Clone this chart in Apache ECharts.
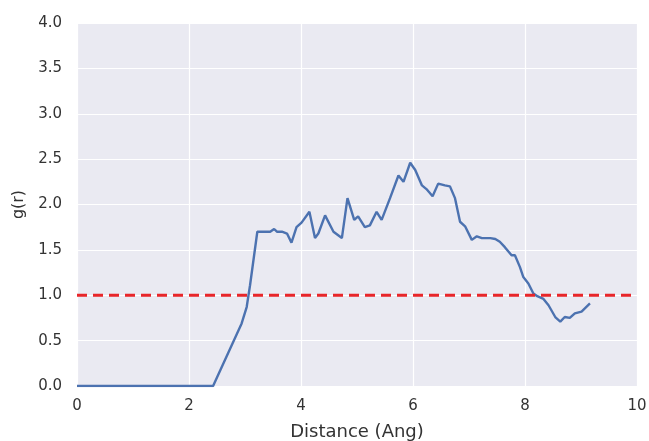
<!DOCTYPE html>
<html>
<head>
<meta charset="utf-8">
<script src="https://cdn.jsdelivr.net/npm/echarts@6/dist/echarts.min.js"></script>
<style>
html,body{margin:0;padding:0;background:#fff;}
#chart{width:649px;height:441px;}
</style>
</head>
<body>
<div id="chart"></div>
<script>
// Distance (Ang)
const distances = [0, 2.43, 2.94, 3.03, 3.09, 3.22, 3.45, 3.52, 3.57, 3.66, 3.75, 3.83, 3.92, 4.01, 4.15, 4.25, 4.31, 4.43, 4.58, 4.73, 4.83, 4.95, 5.02, 5.14, 5.23, 5.35, 5.44, 5.59, 5.74, 5.83, 5.95, 6.04, 6.16, 6.24, 6.35, 6.45, 6.57, 6.66, 6.75, 6.84, 6.93, 7.05, 7.14, 7.23, 7.38, 7.47, 7.55, 7.64, 7.76, 7.82, 7.91, 7.97, 8.06, 8.15, 8.22, 8.33, 8.42, 8.54, 8.63, 8.71, 8.80, 8.89, 9.01, 9.16];
// g(r)
const gr = [0, 0, 0.69, 0.87, 1.11, 1.70, 1.70, 1.73, 1.70, 1.70, 1.68, 1.58, 1.75, 1.80, 1.92, 1.63, 1.68, 1.88, 1.70, 1.63, 2.07, 1.83, 1.87, 1.75, 1.77, 1.92, 1.83, 2.07, 2.32, 2.25, 2.46, 2.38, 2.21, 2.17, 2.09, 2.23, 2.21, 2.20, 2.07, 1.81, 1.76, 1.61, 1.65, 1.63, 1.63, 1.62, 1.59, 1.53, 1.44, 1.44, 1.31, 1.20, 1.13, 1.02, 0.99, 0.96, 0.89, 0.76, 0.71, 0.76, 0.75, 0.80, 0.82, 0.91];
const refX = [0, 10];
const refY = [1.0, 1.0];
const xTicks = [0, 2, 4, 6, 8, 10];
const yTicks = [0.0, 0.5, 1.0, 1.5, 2.0, 2.5, 3.0, 3.5, 4.0];

const chart = echarts.init(document.getElementById('chart'), null, {renderer: 'canvas'});
const font = 'DejaVu Sans';
chart.setOption({
  animation: false,
  backgroundColor: '#ffffff',
  grid: {left: 77, right: 12, top: 23, bottom: 55, show: true, backgroundColor: '#EAEAF2', borderWidth: 0,
    containLabel: false, outerBoundsMode: 'none'},
  xAxis: {
    type: 'value', min: xTicks[0], max: xTicks[xTicks.length - 1], interval: 2,
    name: 'Distance (Ang)', nameLocation: 'middle', nameGap: 37,
    nameTextStyle: {fontFamily: font, fontSize: 18, color: '#333333'},
    axisLine: {show: false}, axisTick: {show: false},
    axisLabel: {fontFamily: font, fontSize: 15, color: '#333333', margin: 13},
    splitLine: {show: true, lineStyle: {color: '#ffffff', width: 1.2}}
  },
  yAxis: {
    type: 'value', min: yTicks[0], max: yTicks[yTicks.length - 1], interval: 0.5,
    name: 'g(r)', nameLocation: 'middle', nameGap: 50,
    nameTextStyle: {fontFamily: font, fontSize: 16, color: '#333333'},
    axisLine: {show: false}, axisTick: {show: false},
    axisLabel: {fontFamily: font, fontSize: 15, color: '#333333', margin: 15,
      formatter: v => v.toFixed(1)},
    splitLine: {show: true, lineStyle: {color: '#ffffff', width: 1.2}}
  },
  series: [
    {
      type: 'line', data: distances.map((d, i) => [d, gr[i]]),
      showSymbol: false, lineStyle: {color: '#4C72B0', width: 2.4}, z: 3
    },
    {
      type: 'line', data: refX.map((d, i) => [d, refY[i]]),
      showSymbol: false, lineStyle: {color: '#E8262A', width: 2.8, type: [10, 6]}, z: 4
    }
  ]
});
</script>
</body>
</html>
